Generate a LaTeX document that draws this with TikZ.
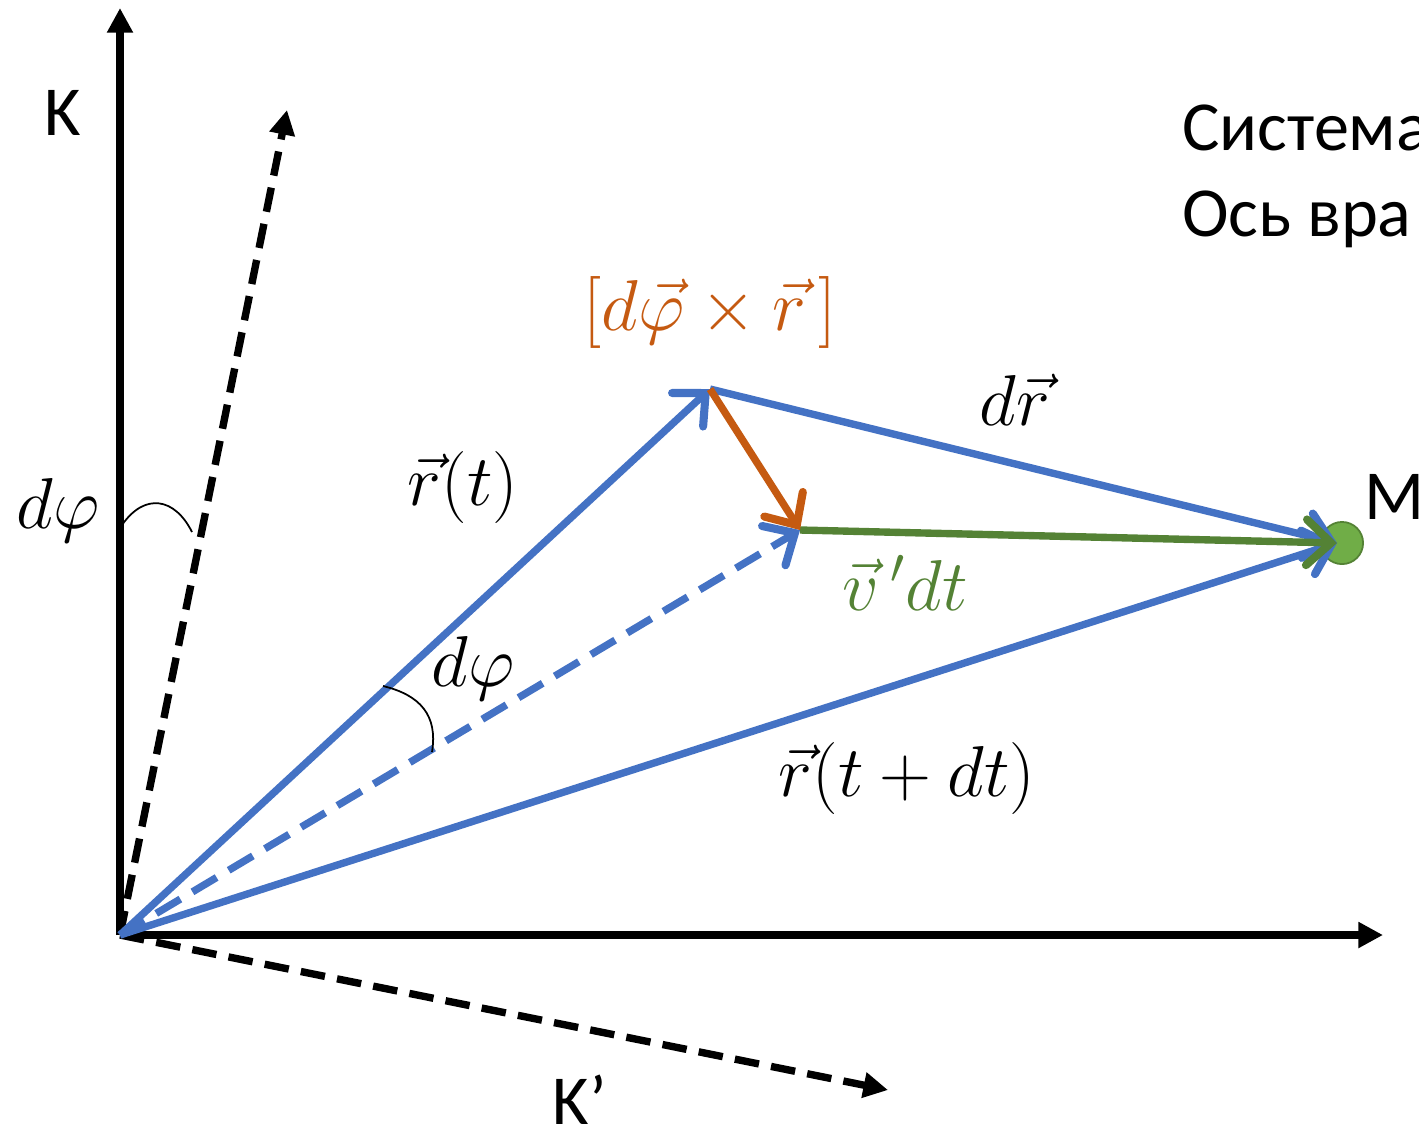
\documentclass[tikz,border=0pt]{standalone}
\usepackage{fix-cm}
\usepackage{amsmath}
\usepackage{fontspec}
\setmainfont{Carlito}
\usetikzlibrary{arrows.meta}
\definecolor{vecblue}{HTML}{4472C4}
\definecolor{rotorange}{HTML}{C55A11}
\definecolor{relgreen}{HTML}{548235}
\definecolor{pointgreen}{HTML}{70AD47}

\begin{document}
\begin{tikzpicture}[x=0.02cm,y=-0.02cm,
    axis/.style={line width=4.2pt,-{Triangle[length=14pt,width=14pt]}},
    rotaxis/.style={axis,dash pattern=on 14pt off 7pt},
    vec/.style={line width=4.2pt,vecblue,
      -{Straight Barb[length=14pt,width=26pt,line width=4.6pt,line cap=round]}},
    lbl/.style={font=\fontsize{40}{48}\selectfont},
    mlbl/.style={font=\fontsize{41}{48}\selectfont,inner sep=0pt},
    anglemark/.style={line width=1pt}]
    \useasboundingbox (0,0) rectangle (1419,1134);

    % frames
    \coordinate (O) at (120,935);
    \coordinate (Ktop) at (120,8);
    \coordinate (Xend) at (1383,935);
    \coordinate (Kdash) at (287,110);
    \coordinate (Kpr) at (888,1090);
    \draw[axis] (O) -- (Ktop);
    \draw[axis] (O) -- (Xend);
    \draw[rotaxis] (O) -- (Kdash);
    \draw[rotaxis] (O) -- (Kpr);
    \node[lbl] (Klbl) at (63,113) {K};
    \node[lbl] (Kprlbl) at (580,1100) {K’};

    % point M
    \node[circle,draw=relgreen,fill=pointgreen,line width=1pt,
      minimum size=24pt,inner sep=0pt] (M) at (1342,543) {};
    \node[lbl,anchor=west] (Mlbl) at (1358,497) {M};
    \coordinate (Mtip) at (1337,543);
    \coordinate (A) at (710,389);
    \coordinate (B) at (800,530);

    % vectors
    \draw[vec] (O) -- (A);
    \draw[vec] (O) -- (Mtip);
    \draw[vec,dash pattern=on 16pt off 8pt] (O) -- (B);
    \draw[vec] (A) -- (Mtip);
    \draw[vec,relgreen] (B) -- (Mtip);
    \draw[vec,rotorange] (A) -- (B);

    % angles
    \draw[anglemark] (122,525) .. controls (145,492) and (175,498) .. (192,532);
    \draw[anglemark] (383,686) .. controls (420,695) and (438,715) .. (432,752);

    % labels
    \node[mlbl] (phiK) at (58,510) {$d\varphi$};
    \node[mlbl] (phiR) at (473,668) {$d\varphi$};
    \node[mlbl] (rt) at (463,487) {$\vec{r}(t)$};
    \node[mlbl] (rtdt) at (907,778) {$\vec{r}(t+dt)$};
    \node[mlbl] (drl) at (1015,400) {$d\vec{r}$};
    \node[mlbl,text=rotorange] (cross) at (710,312) {$[d\vec{\varphi}\times\vec{r}\,]$};
    \node[mlbl,text=relgreen] (vdt) at (905,583) {$\vec{v}\,'dt$};

    \node[lbl,anchor=base west] (sys) at (1176,150) {Система};
    \node[lbl,anchor=base west] (axl) at (1176,236) {Ось вра};
\end{tikzpicture}
\end{document}
